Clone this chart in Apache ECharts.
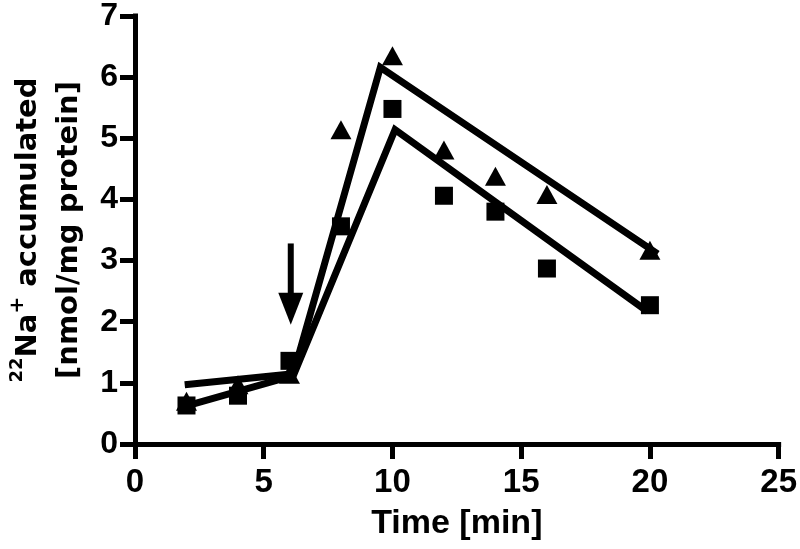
<!DOCTYPE html>
<html>
<head>
<meta charset="utf-8">
<script src="https://cdn.jsdelivr.net/npm/echarts@6/dist/echarts.min.js"></script>
<style>
html,body{margin:0;padding:0;background:#fff;}
#chart{width:800px;height:549px;}
</style>
</head>
<body>
<div id="chart"></div>
<script>
// Measured points (squares)
var squareX = [2, 4, 6, 8, 10, 12, 14, 16, 20];
var squareY = [0.63, 0.79, 1.36, 3.56, 5.48, 4.06, 3.80, 2.87, 2.27];
// Measured points (triangles)
var triangleX = [2, 4, 6, 8, 10, 12, 14, 16, 20];
var triangleY = [0.70, 0.97, 1.14, 5.14, 6.35, 4.81, 4.38, 4.08, 3.17];
// Fitted segmented lines
var fitTriX = [1.93, 6.15, 9.53, 20.3];
var fitTriY = [0.97, 1.15, 6.16, 3.11];
var fitSqX = [1.8, 6.15, 10.1, 19.9];
var fitSqY = [0.6, 1.12, 5.14, 2.17];
// Arrow marking addition time
var arrowX = [6.05, 6.05];
var arrowY = [3.28, 2.3];
var arrowHeadX = [6.05];
var arrowHeadY = [2.21];
// Axis ticks
var xTicks = [0, 5, 10, 15, 20, 25];
var yTicks = [0, 1, 2, 3, 4, 5, 6, 7];

function zip(a, b) { return a.map(function (v, i) { return [v, b[i]]; }); }

var chart = echarts.init(document.getElementById('chart'), null, {renderer: 'canvas'});
var lab = {fontFamily: 'Liberation Sans', fontWeight: 'bold', color: '#000'};
var solid = {color: '#000', opacity: 1};
var option = {
  animation: false,
  backgroundColor: '#fff',
  grid: {left: 132.3, right: 17.7, top: 11.7, bottom: 105},
  xAxis: {
    type: 'value', min: xTicks[0], max: xTicks[xTicks.length - 1], interval: 5,
    name: 'Time [min]', nameLocation: 'middle', nameGap: 63,
    nameTextStyle: {fontFamily: 'Liberation Sans', fontWeight: 'bold', fontSize: 34, color: '#000'},
    axisLine: {onZero: false, lineStyle: {color: '#000', width: 5, cap: 'square'}},
    axisTick: {length: 15, lineStyle: {color: '#000', width: 5}},
    axisLabel: Object.assign({fontSize: 33, margin: 22}, lab),
    splitLine: {show: false}
  },
  yAxis: {
    type: 'value', min: yTicks[0], max: yTicks[yTicks.length - 1], interval: 1,
    name: '{sup|22}{b|Na}{sup2|+}{b| accumulated}\n{b|[nmol/mg protein]}',
    nameLocation: 'middle', nameRotate: 90, nameGap: 45,
    nameTextStyle: {
      color: '#000',
      rich: {
        b: {fontFamily: 'DejaVu Sans', fontWeight: 'bold', fontSize: 29, lineHeight: 41, color: '#000'},
        sup: {fontFamily: 'DejaVu Sans', fontWeight: 'bold', fontSize: 18, lineHeight: 41, verticalAlign: 'top', color: '#000'},
        sup2: {fontFamily: 'DejaVu Sans', fontWeight: 'bold', fontSize: 20, lineHeight: 38, verticalAlign: 'top', color: '#000'}
      }
    },
    axisLine: {lineStyle: {color: '#000', width: 5, cap: 'square'}},
    axisTick: {length: 15, lineStyle: {color: '#000', width: 5}},
    axisLabel: Object.assign({fontSize: 32, margin: 17, padding: [11, 0, 0, 0]}, lab),
    splitLine: {show: false}
  },
  series: [
    {
      type: 'line', data: zip(fitTriX, fitTriY), symbol: 'none', silent: true,
      lineStyle: {color: '#000', width: 7, join: 'miter', cap: 'butt', opacity: 1}
    },
    {
      type: 'line', data: zip(fitSqX, fitSqY), symbol: 'none', silent: true,
      lineStyle: {color: '#000', width: 7, join: 'miter', cap: 'butt', opacity: 1}
    },
    {
      type: 'scatter', data: zip(squareX, squareY), symbol: 'rect', symbolSize: 18,
      itemStyle: solid
    },
    {
      type: 'scatter', data: zip(triangleX, triangleY), symbol: 'triangle', symbolSize: [21, 19],
      itemStyle: solid
    },
    {
      type: 'line', data: zip(arrowX, arrowY), symbol: 'none', silent: true,
      lineStyle: {color: '#000', width: 6, opacity: 1}
    },
    {
      type: 'scatter', data: zip(arrowHeadX, arrowHeadY), symbol: 'triangle', symbolRotate: 180,
      symbolSize: [25, 32], itemStyle: solid
    }
  ]
};
chart.setOption(option);
</script>
</body>
</html>
